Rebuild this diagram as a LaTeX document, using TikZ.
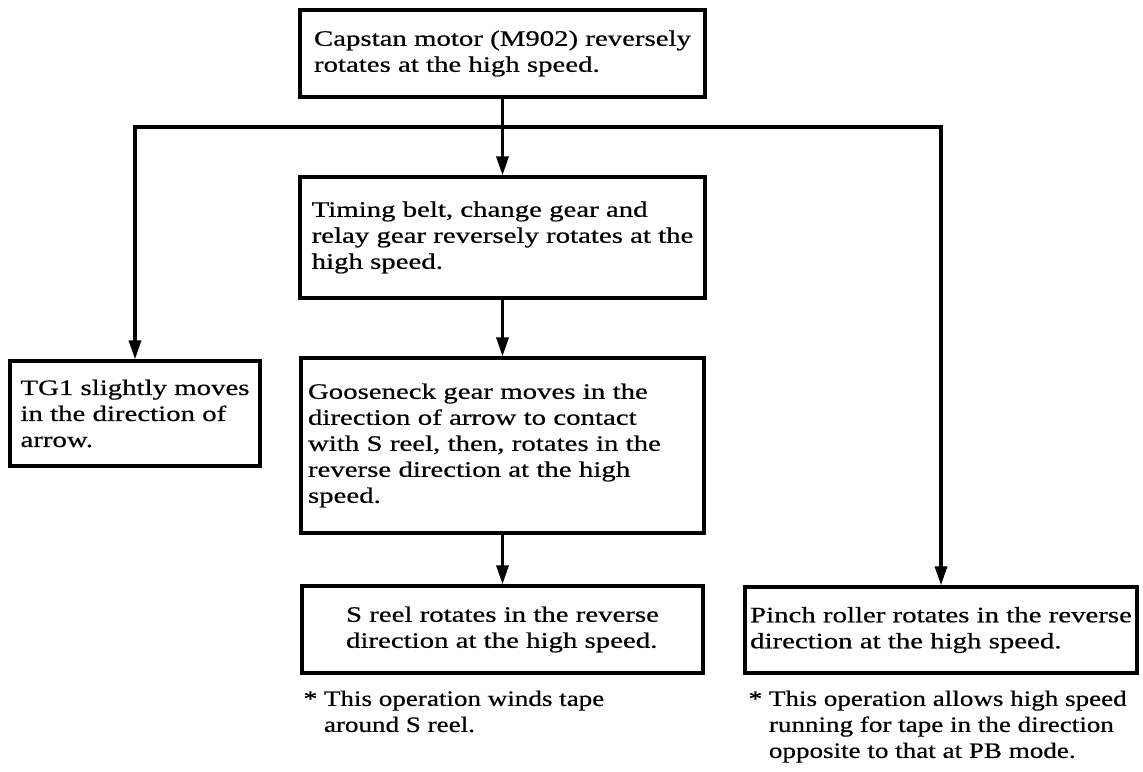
\documentclass[tikz,border=0pt]{standalone}
\usepackage{fontspec}
\setmainfont{Liberation Serif}[FakeStretch=1.31, FakeBold=0.6]
\newfontfamily\notefont{Liberation Serif}[FakeStretch=1.23, FakeBold=0.6]
\usetikzlibrary{arrows.meta}
\begin{document}
\begin{tikzpicture}[x=1pt, y=-1pt, >={Triangle[length=19pt,width=12pt]}, line width=3.3pt,
  box/.style={draw, align=left, inner xsep=2pt, font=\fontsize{22}{26}\selectfont},
  note/.style={align=left, inner sep=0pt, anchor=north west, font=\notefont\fontsize{22}{26}\selectfont}]
\useasboundingbox (0,0) rectangle (1143,771);

\node[box, minimum width=405pt, minimum height=87pt](A) at (502.5,53.5){Capstan motor (M902) reversely\\rotates at the high speed.};
\node[box, minimum width=405pt, minimum height=121pt](B) at (502.5,237.5){Timing belt, change gear and\\relay gear reversely rotates at the\\high speed.};

\node[box, minimum width=250pt, minimum height=105pt](C1) at (135,413.5){TG1 slightly moves\\in the direction of\\arrow.};
\node[box, minimum width=403pt, minimum height=175pt, text width=389pt, inner xsep=7pt](C2) at (502.5,445.5){Gooseneck gear moves in the\\direction of arrow to contact\\with S reel, then, rotates in the\\reverse direction at the high\\speed.};
\node[box, minimum width=392pt, minimum height=86pt](C3) at (941,630){Pinch roller rotates in the reverse\\direction at the high speed.};

\node[box, minimum width=401pt, minimum height=87pt](D) at (502.5,629.5){S reel rotates in the reverse\\direction at the high speed.};

\node[note](E1) at (302,689){* This operation winds tape\\\hphantom{*\ }around S reel.};
\node[note](E2) at (747,689){* This operation allows high speed\\\hphantom{*\ }running for tape in the direction\\\hphantom{*\ }opposite to that at PB mode.};

\coordinate (J) at (502.5,127);
\draw[->](A)--(B);
\draw[->](J)-|(C1);
\draw[->](J)-|(C3);
\draw[->](B)--(C2);
\draw[->](C2)--(D);
\end{tikzpicture}
\end{document}
